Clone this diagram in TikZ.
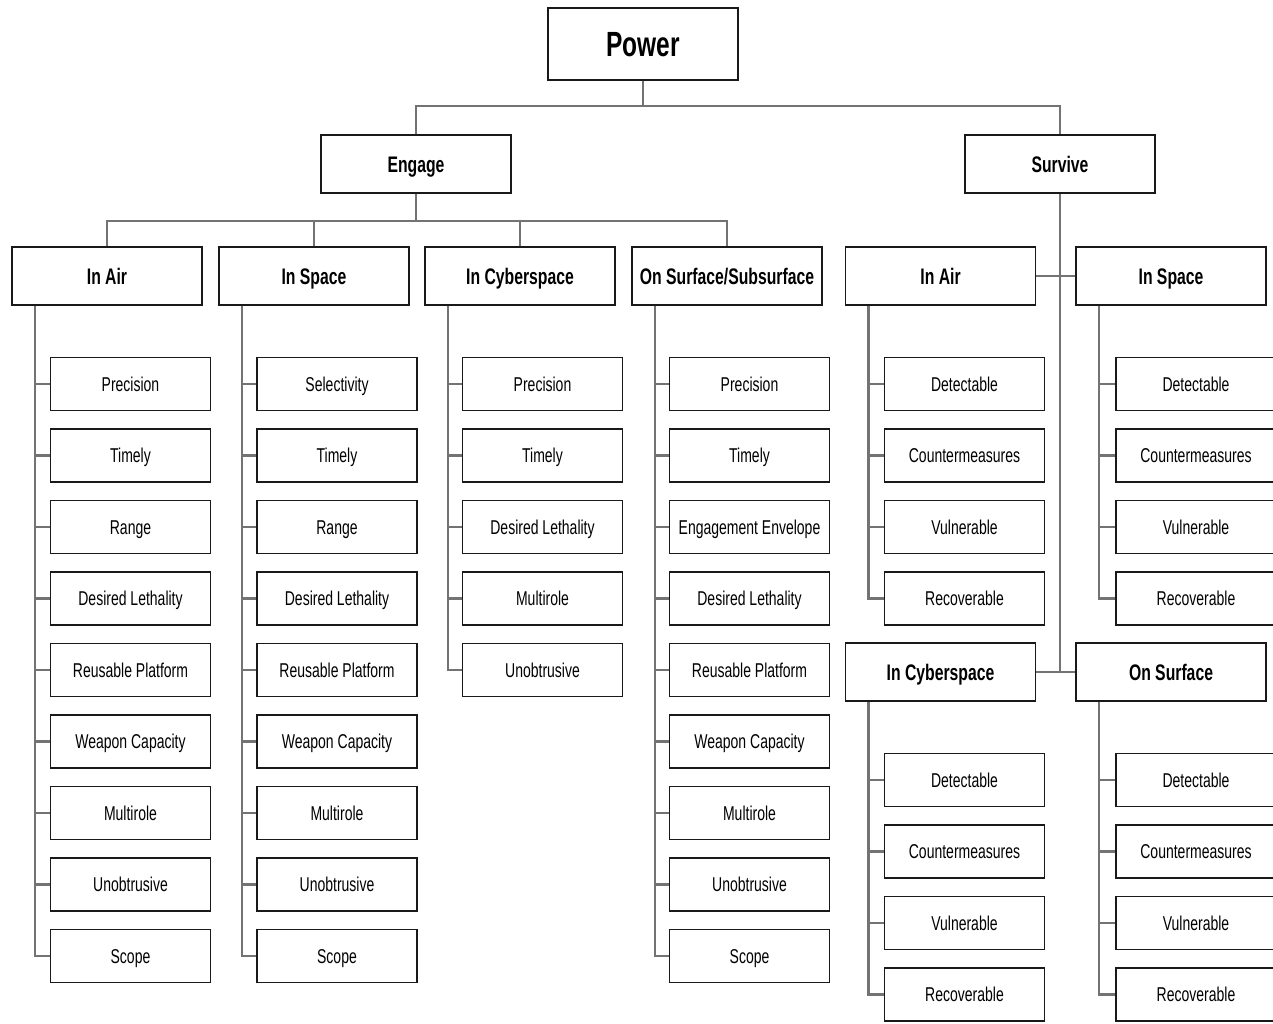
\documentclass[tikz,border=0pt]{standalone}
\usepackage{fontspec}
\setmainfont{Liberation Sans}[FakeStretch=0.7]
\usetikzlibrary{positioning}
\tikzset{box/.style = {draw=black!90, line width=1.8pt, fill=white, align=center, inner sep=0pt,
                       text depth=0pt}}
\tikzset{root/.style = {box, minimum width=190pt, minimum height=72pt, text height=25pt,
                        font=\bfseries\fontsize{35}{40}\selectfont}}
\tikzset{head/.style = {box, minimum width=190pt, minimum height=58pt, text height=17pt,
                        font=\bfseries\fontsize{22.5}{28}\selectfont}}
\tikzset{leaf/.style = {box, minimum width=160pt, minimum height=53pt, text height=14pt,
                        font=\fontsize{20}{24}\selectfont}}
\tikzset{link/.style = {draw=black!55, line width=2.5pt}}

\begin{document}
\begin{tikzpicture}[x=1pt, y=-1pt]
      \fill [white] (0, 0) rectangle (1273, 1023);
      \useasboundingbox (0, 0) rectangle (1273, 1023);
      % top two levels
      \node [root] (power) at (643, 44) {Power};
      \node [head] (engage) at (416, 164) {Engage};
      \node [head] (survive) at (1060, 164) {Survive};
      \draw [link] (power.south) -- ++(0, 25) -| (engage.north);
      \draw [link] (power.south) -- ++(0, 25) -| (survive.north);
      % engage branches
      \node [head] (ea) at (107, 276) {In Air};
      \node [head] (es) at (314, 276) {In Space};
      \node [head] (ec) at (520, 276) {In Cyberspace};
      \node [head] (eo) at (727, 276) {On Surface/Subsurface};
      \foreach \c in {ea, es, ec, eo}
        \draw [link] (engage.south) -- ++(0, 27) -| (\c.north);
      % survive branches
      \node [head] (sa) at (940.5, 276) {In Air};
      \node [head] (ss) at (1171, 276) {In Space};
      \node [head] (sc) at (940.5, 672) {In Cyberspace};
      \node [head] (so) at (1171, 672) {On Surface};
      \draw [link] (survive.south) -- (survive.south |- sc.east);
      \draw [link] (sa.east) -- (ss.west);
      \draw [link] (sc.east) -- (so.west);
      % leaves
      \foreach \p/\cx/\cy/\lst in {
          ea/130.5/384/{Precision, Timely, Range, Desired Lethality, Reusable Platform,
                        Weapon Capacity, Multirole, Unobtrusive, Scope},
          es/337/384/{Selectivity, Timely, Range, Desired Lethality, Reusable Platform,
                      Weapon Capacity, Multirole, Unobtrusive, Scope},
          ec/542.5/384/{Precision, Timely, Desired Lethality, Multirole, Unobtrusive},
          eo/749.5/384/{Precision, Timely, Engagement Envelope, Desired Lethality,
                        Reusable Platform, Weapon Capacity, Multirole, Unobtrusive, Scope},
          sa/964.5/384/{Detectable, Countermeasures, Vulnerable, Recoverable},
          ss/1196/384/{Detectable, Countermeasures, Vulnerable, Recoverable},
          sc/964.5/780/{Detectable, Countermeasures, Vulnerable, Recoverable},
          so/1196/780/{Detectable, Countermeasures, Vulnerable, Recoverable}}
        \foreach \lbl [count=\i] in \lst {
          \node [leaf] (\p-\i) at (\cx, {\cy + 71.5*(\i - 1)}) {\lbl};
          \draw [link] ([xshift=24pt]\p.south west) |- (\p-\i.west);
        }
    \end{tikzpicture}
\end{document}
